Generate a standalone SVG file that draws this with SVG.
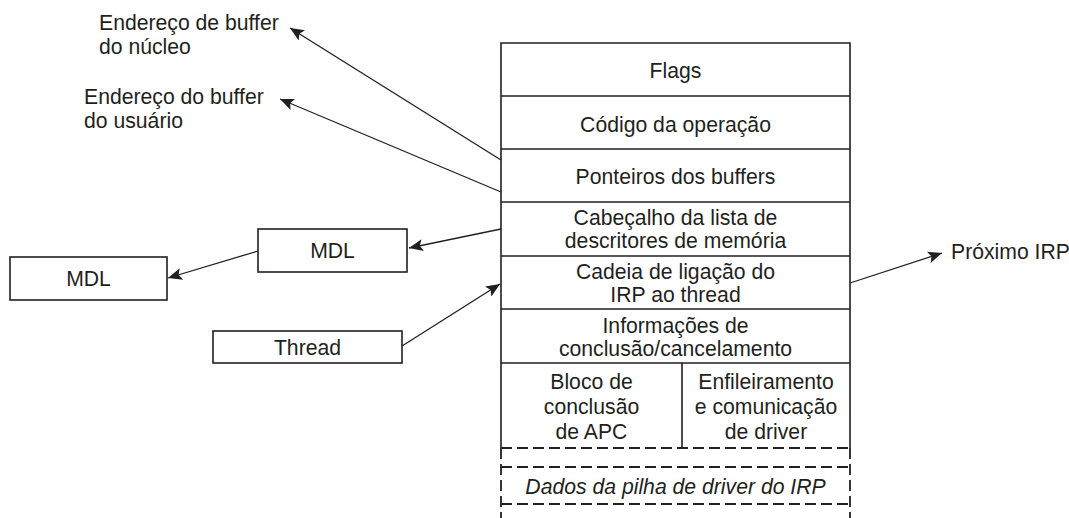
<svg xmlns="http://www.w3.org/2000/svg" width="1069" height="518" viewBox="0 0 1069 518">
<defs>
<marker id="arr" markerUnits="userSpaceOnUse" markerWidth="16" markerHeight="12" viewBox="0 0 16 12" refX="14" refY="6" orient="auto">
<path d="M0,0 L14,6 L0,12 L3,6 Z" fill="#231f20"/>
</marker>
<style>
text{font-family:"Liberation Sans",Arial,sans-serif;font-size:21.2px;fill:#231f20}
.c{text-anchor:middle}
.box{fill:#fff;stroke:#231f20;stroke-width:1.6}
.ln{stroke:#231f20;stroke-width:1.6;fill:none}
.dash{stroke:#231f20;stroke-width:1.8;fill:none;stroke-dasharray:11 5}
.con{stroke:#231f20;stroke-width:1.3;fill:none;marker-end:url(#arr)}
</style>
</defs>
<rect width="1069" height="518" fill="#fff"/>
<g id="irp">
<path class="ln" d="M501,448 V43 H850 V448"/>
<path class="ln" d="M501,96 H850 M501,149 H850 M501,202 H850 M501,256 H850 M501,309 H850 M501,363 H850 M682,363 V448"/>
<path class="dash" d="M501,448 H850 M501,467 H850 M501,504 H850 M501,448 V518 M850,448 V518"/>
<text class="c" x="675.5" y="78">Flags</text>
<text class="c" x="675.5" y="132">Código da operação</text>
<text class="c" x="675.5" y="184">Ponteiros dos buffers</text>
<text class="c" x="675.5" y="225">Cabeçalho da lista de</text>
<text class="c" x="675.5" y="248">descritores de memória</text>
<text class="c" x="675.5" y="279">Cadeia de ligação do</text>
<text class="c" x="675.5" y="302">IRP ao thread</text>
<text class="c" x="675.5" y="333">Informações de</text>
<text class="c" x="675.5" y="356">conclusão/cancelamento</text>
<text class="c" x="591.5" y="389">Bloco de</text>
<text class="c" x="591.5" y="414">conclusão</text>
<text class="c" x="591.5" y="439">de APC</text>
<text class="c" x="766" y="389">Enfileiramento</text>
<text class="c" x="766" y="414">e comunicação</text>
<text class="c" x="766" y="439">de driver</text>
<text class="c" x="675.5" y="494" font-style="italic">Dados da pilha de driver do IRP</text>
</g>
<g id="kbuf">
<text x="99" y="30">Endereço de buffer</text>
<text x="99" y="54">do núcleo</text>
</g>
<g id="ubuf">
<text x="84" y="104">Endereço do buffer</text>
<text x="84" y="128">do usuário</text>
</g>
<g id="mdl1">
<rect class="box" x="258" y="229" width="149" height="43"/>
<text class="c" x="332.5" y="258">MDL</text>
</g>
<g id="mdl2">
<rect class="box" x="10" y="257" width="157" height="43"/>
<text class="c" x="88.5" y="286">MDL</text>
</g>
<g id="thread">
<rect class="box" x="213" y="331" width="189" height="32"/>
<text class="c" x="307.5" y="355">Thread</text>
</g>
<g id="next">
<text x="951" y="259">Próximo IRP</text>
</g>
<g id="connectors">
<line class="con" x1="501" y1="160" x2="290" y2="28"/>
<line class="con" x1="501" y1="192" x2="280" y2="99"/>
<line class="con" x1="501" y1="229" x2="409" y2="248"/>
<line class="con" x1="258" y1="251" x2="168" y2="278"/>
<line class="con" x1="402" y1="346" x2="500" y2="284"/>
<line class="con" x1="850" y1="283" x2="942" y2="253"/>
</g>
</svg>
